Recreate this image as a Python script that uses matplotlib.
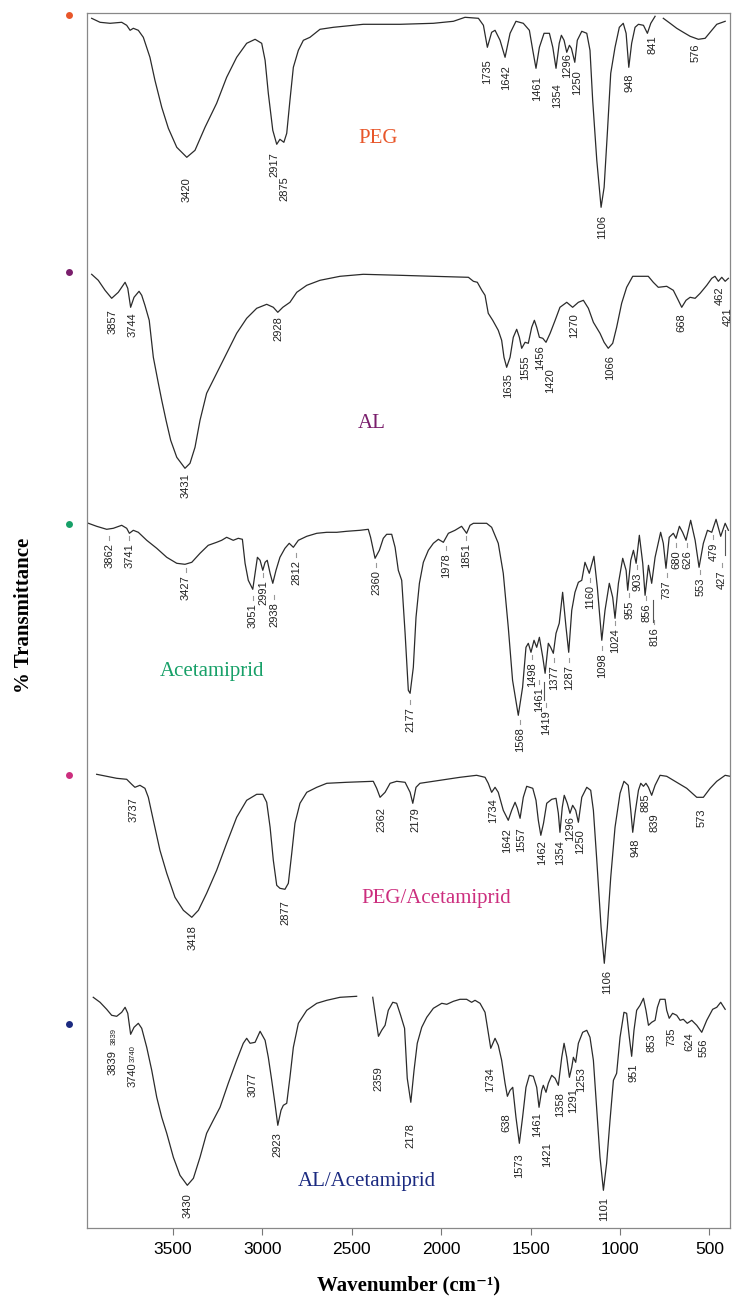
import numpy as np
import matplotlib.pyplot as plt

plt.rcParams['font.family'] = ['Liberation Sans', 'DejaVu Sans']

nan = np.nan

# FTIR traces: wavenumber (cm-1) and stacked transmittance (a.u.)
peg_wn = [3955, 3908, 3852, 3787, 3759, 3740, 3722, 3694, 3666, 3629,
          3601, 3563, 3526, 3479, 3423, 3377, 3321, 3256, 3200, 3144,
          3088, 3041, 3004, 2985, 2967, 2942, 2920, 2902, 2880, 2864,
          2846, 2827, 2799, 2771, 2734, 2678, 2603, 2436, 2230, 2044,
          1932, 1867, 1792, 1764, 1742, 1718, 1699, 1671, 1643, 1615,
          1582, 1541, 1507, 1488, 1470, 1451, 1425, 1395, 1376, 1358,
          1340, 1328, 1313, 1298, 1283, 1272, 1253, 1239, 1214, 1186,
          1168, 1153, 1130, 1106, 1089, 1071, 1052, 1028, 1004, 982,
          966, 951, 935, 916, 897, 869, 847, 828, 804, nan,
          758, 720, 683, 646, 608, 562, 524, 487, 459, 412]
peg_t = [1210, 1206, 1205, 1206, 1203, 1198, 1200, 1198, 1191, 1171,
         1148, 1121, 1100, 1081, 1071, 1078, 1101, 1125, 1151, 1171,
         1185, 1189, 1185, 1168, 1135, 1098, 1084, 1089, 1086, 1095,
         1128, 1161, 1178, 1188, 1191, 1199, 1201, 1204, 1204, 1205,
         1207, 1211, 1210, 1203, 1181, 1196, 1198, 1188, 1171, 1195,
         1207, 1205, 1198, 1178, 1160, 1181, 1195, 1195, 1181, 1160,
         1185, 1193, 1188, 1176, 1183, 1180, 1166, 1188, 1197, 1195,
         1178, 1128, 1068, 1021, 1041, 1095, 1155, 1181, 1201, 1205,
         1195, 1161, 1185, 1201, 1204, 1203, 1195, 1205, 1212, nan,
         1210, 1205, 1200, 1196, 1192, 1189, 1190, 1198, 1204, 1207]

al_wn = [3955, 3918, 3880, 3843, 3806, 3787, 3768, 3753, 3737, 3718,
         3690, 3675, 3657, 3633, 3610, 3582, 3563, 3539, 3513, 3479,
         3433, 3405, 3377, 3349, 3312, 3256, 3200, 3144, 3088, 3032,
         2976, 2939, 2914, 2886, 2846, 2808, 2752, 2678, 2566, 2436,
         2230, 2044, 1848, 1820, 1798, 1773, 1755, 1737, 1712, 1681,
         1662, 1649, 1634, 1615, 1597, 1578, 1563, 1550, 1531, 1513,
         1494, 1479, 1466, 1451, 1432, 1414, 1391, 1363, 1336, 1298,
         1265, 1233, 1205, 1177, 1149, 1112, 1089, 1066, 1041, 1019,
         991, 963, 929, 842, 814, 786, 739, 702, 674, 655,
         631, 608, 580, 552, 515, 487, 469, 450, 431, 412, 394]
al_t = [954, 948, 938, 930, 936, 941, 946, 940, 921, 931,
        937, 933, 923, 908, 871, 845, 828, 808, 788, 771,
        760, 765, 781, 808, 835, 855, 875, 895, 910, 920,
        924, 921, 916, 921, 926, 936, 943, 948, 952, 954,
        953, 952, 951, 947, 946, 938, 933, 915, 908, 898,
        888, 871, 861, 871, 891, 899, 891, 880, 886, 885,
        901, 908, 901, 891, 890, 886, 895, 908, 921, 926,
        921, 926, 928, 920, 906, 895, 886, 880, 885, 901,
        925, 941, 952, 952, 946, 941, 942, 938, 928, 921,
        928, 931, 930, 935, 943, 950, 952, 947, 951, 947, 950]

acet_wn = [3973, 3927, 3871, 3834, 3787, 3759, 3744, 3722, 3694, 3647,
           3591, 3535, 3479, 3433, 3395, 3349, 3303, 3256, 3228, 3200,
           3163, 3135, 3112, 3097, 3079, 3054, 3041, 3028, 3013, 2998,
           2985, 2973, 2957, 2942, 2924, 2902, 2874, 2850, 2827, 2799,
           2752, 2696, 2640, 2584, 2529, 2454, 2408, 2395, 2370, 2346,
           2324, 2305, 2277, 2258, 2240, 2221, 2202, 2184, 2174, 2156,
           2141, 2122, 2100, 2072, 2044, 2016, 1988, 1960, 1923, 1886,
           1858, 1839, 1820, 1746, 1718, 1681, 1653, 1625, 1601, 1569,
           1545, 1526, 1513, 1498, 1481, 1466, 1451, 1432, 1419, 1401,
           1388, 1373, 1358, 1340, 1321, 1302, 1287, 1270, 1252, 1233,
           1214, 1196, 1172, 1146, 1127, 1102, 1084, 1060, 1041, 1028,
           1009, 985, 966, 957, 940, 925, 910, 892, 873, 860,
           841, 823, 804, 773, 758, 743, 725, 702, 687, 668,
           650, 631, 605, 580, 558, 534, 511, 487, 463, 437,
           412, 394]
acet_t = [705, 702, 699, 700, 703, 700, 695, 698, 696, 688,
          680, 671, 665, 664, 666, 675, 683, 686, 688, 691,
          688, 690, 689, 665, 648, 639, 655, 671, 668, 658,
          666, 668, 655, 645, 658, 671, 680, 685, 681, 688,
          692, 695, 696, 696, 697, 698, 699, 691, 670, 678,
          690, 694, 694, 681, 658, 648, 595, 538, 535, 561,
          611, 645, 666, 678, 685, 689, 686, 695, 698, 702,
          695, 703, 705, 705, 701, 685, 655, 601, 548, 513,
          541, 581, 585, 576, 588, 581, 591, 571, 555, 585,
          581, 575, 595, 605, 636, 601, 576, 618, 636, 646,
          648, 666, 655, 672, 641, 588, 618, 645, 631, 610,
          645, 670, 658, 638, 668, 678, 665, 693, 665, 633,
          663, 645, 671, 696, 685, 660, 691, 695, 690, 702,
          696, 688, 708, 688, 661, 685, 698, 696, 709, 692,
          705, 698]

pa_wn = [3927, 3871, 3815, 3759, 3731, 3713, 3685, 3657, 3638, 3610,
         3573, 3535, 3489, 3442, 3395, 3358, 3312, 3256, 3200, 3144,
         3088, 3032, 2998, 2976, 2957, 2939, 2920, 2902, 2874, 2855,
         2836, 2818, 2790, 2752, 2696, 2640, 2529, 2380, 2361, 2342,
         2314, 2286, 2249, 2202, 2174, 2159, 2141, 2119, 2007, 1895,
         1802, 1755, 1737, 1718, 1699, 1681, 1653, 1625, 1606, 1587,
         1574, 1559, 1541, 1522, 1488, 1470, 1457, 1443, 1428, 1410,
         1382, 1358, 1345, 1336, 1323, 1312, 1295, 1280, 1265, 1248,
         1233, 1214, 1186, 1164, 1149, 1130, 1106, 1088, 1071, 1052,
         1028, 1000, 978, 954, 940, 929, 916, 897, 884, 869,
         855, 841, 823, 804, 776, 739, 683, 627, 571, 534,
         496, 459, 412, 384]
pa_t = [454, 452, 450, 449, 444, 441, 443, 440, 431, 408,
        378, 355, 331, 318, 311, 318, 335, 358, 385, 411,
        428, 434, 434, 426, 401, 368, 343, 340, 339, 345,
        375, 405, 425, 436, 441, 445, 446, 447, 440, 431,
        436, 445, 447, 446, 436, 425, 441, 445, 448, 451,
        453, 451, 445, 436, 441, 436, 418, 408, 418, 426,
        420, 410, 431, 442, 440, 428, 408, 393, 405, 425,
        429, 430, 415, 396, 421, 433, 425, 415, 423, 418,
        406, 431, 441, 438, 418, 368, 301, 265, 301, 351,
        401, 435, 447, 443, 418, 396, 415, 438, 445, 442,
        445, 441, 433, 443, 453, 452, 446, 440, 431, 431,
        440, 447, 453, 452]

aa_wn = [3946, 3908, 3871, 3843, 3815, 3787, 3768, 3753, 3737, 3718,
         3694, 3675, 3647, 3619, 3591, 3563, 3535, 3498, 3461, 3420,
         3386, 3349, 3312, 3275, 3237, 3191, 3144, 3107, 3088, 3069,
         3041, 3013, 2985, 2967, 2948, 2930, 2914, 2896, 2883, 2864,
         2846, 2827, 2799, 2752, 2696, 2640, 2566, 2473, nan, 2383,
         2370, 2351, 2333, 2314, 2296, 2271, 2249, 2227, 2205, 2190,
         2170, 2152, 2134, 2109, 2081, 2044, 1997, 1969, 1932, 1895,
         1858, 1830, 1811, 1783, 1755, 1737, 1723, 1699, 1681, 1662,
         1643, 1630, 1615, 1600, 1582, 1563, 1545, 1526, 1507, 1485,
         1466, 1453, 1438, 1429, 1414, 1401, 1382, 1363, 1345, 1326,
         1313, 1298, 1283, 1270, 1261, 1248, 1233, 1209, 1186, 1168,
         1149, 1130, 1112, 1093, 1075, 1056, 1037, 1019, 1000, 978,
         963, 948, 935, 922, 907, 888, 869, 855, 841, 823,
         804, 791, 776, 748, 739, 725, 706, 683, 664, 646,
         624, 599, 571, 543, 515, 482, 459, 437, 412]
aa_t = [231, 226, 219, 213, 212, 216, 221, 215, 194, 201,
        205, 200, 181, 158, 131, 111, 95, 71, 53, 43,
        50, 71, 95, 108, 121, 145, 168, 185, 190, 185,
        186, 197, 188, 171, 148, 125, 103, 118, 123, 125,
        151, 181, 205, 218, 225, 228, 231, 232, nan, 231,
        215, 192, 198, 203, 218, 226, 225, 213, 200, 150,
        126, 158, 185, 201, 211, 220, 225, 224, 227, 229,
        229, 226, 228, 225, 216, 196, 180, 190, 183, 168,
        145, 132, 138, 141, 111, 85, 111, 141, 153, 152,
        141, 121, 138, 143, 136, 145, 153, 150, 143, 171,
        185, 171, 151, 161, 171, 166, 185, 196, 198, 191,
        168, 118, 71, 38, 65, 108, 148, 155, 191, 216,
        215, 191, 172, 198, 218, 223, 230, 218, 203, 206,
        208, 221, 229, 229, 218, 210, 215, 213, 208, 209,
        205, 208, 203, 196, 208, 219, 221, 226, 219]

# peak labels
peg_peaks = ['3420', '2917', '2875', '1735', '1642', '1461', '1354', '1296', '1250', '1106', '948', '841', '576']
al_peaks = ['3857', '3744', '3431', '2928', '1635', '1555', '1456', '1420', '1270', '1066', '668', '462', '421']
acet_peaks = ['3862', '3741', '3427', '3051', '2991', '2938', '2812', '2360', '2177', '1978',
              '1851', '1568', '1498', '1461', '1419', '1377', '1287', '1160', '1098', '1024',
              '955', '903', '856', '816', '737', '680', '626', '553', '479', '427']
pa_peaks = ['3737', '3418', '2877', '2362', '2179', '1734', '1642', '1557', '1462', '1354',
            '1296', '1250', '1106', '948', '885', '839', '573']
aa_peaks = ['3839', '3740', '3430', '3077', '2923', '2359', '2178', '1734', '638', '1573',
            '1461', '1421', '1358', '1291', '1253', '1101', '951', '853', '735', '624', '556']

names = ['PEG', 'AL', 'Acetamiprid', 'PEG/Acetamiprid', 'AL/Acetamiprid']
colors = ['#E8562A', '#7A1E6C', '#17A068', '#CC2E7E', '#1B2A80']

# label placement (x in cm-1, top of rotated text in a.u.)
peg_lab_x = [3423, 2935, 2879, 1742, 1638, 1466, 1354, 1295, 1242, 1099, 948, 819, 575]
peg_lab_top = [1051, 1076, 1052, 1169, 1163, 1152, 1145, 1175, 1158, 1013, 1155, 1193, 1185]
al_lab_x = [3840, 3725, 3427, 2913, 1625, 1531, 1447, 1391, 1257, 1056, 655, 440, 400]
al_lab_top = [919, 916, 755, 912, 855, 873, 883, 860, 915, 873, 915, 942, 921]
acet_lab_x = [3856, 3744, 3427, 3054, 2995, 2933, 2812, 2365, 2174, 1973,
              1861, 1559, 1494, 1454, 1414, 1369, 1283, 1168, 1102, 1028,
              948, 903, 854, 810, 739, 687, 624, 552, 478, 431]
acet_lab_top = [685, 685, 653, 625, 648, 626, 668, 658, 521, 675,
                685, 501, 566, 541, 518, 563, 563, 643, 575, 600,
                628, 656, 625, 601, 648, 678, 678, 651, 686, 658]
pa_lab_x = [3722, 3392, 2870, 2333, 2146, 1709, 1630, 1556, 1438, 1336,
            1281, 1221, 1075, 916, 860, 810, 543]
pa_lab_top = [431, 303, 328, 421, 421, 430, 400, 401, 388, 388,
              412, 399, 258, 390, 435, 415, 420]
aa_lab_x = [3840, 3725, 3420, 3054, 2917, 2353, 2170, 1727, 1638, 1563,
            1462, 1410, 1336, 1265, 1218, 1088, 926, 823, 711, 613, 534]
aa_lab_top = [178, 166, 35, 156, 96, 162, 105, 161, 115, 75,
              116, 86, 136, 140, 161, 31, 165, 195, 201, 196, 190]
aa_small = ['3839', '3740']
aa_small_x = [3828, 3722]
aa_small_top = [200, 183]

name_x = [2353, 2387, 3283, 2026, 2414]
name_y = [1085, 800, 552, 325, 42]
dot_y = [1213, 956, 704, 453, 204]

fig = plt.figure(figsize=(7.32, 13), dpi=100)
ax = fig.add_axes([87 / 732, 1 - 1228.3 / 1300, 643 / 732, 1215.6 / 1300])

traces = [(peg_wn, peg_t), (al_wn, al_t), (acet_wn, acet_t), (pa_wn, pa_t), (aa_wn, aa_t)]
for wn, t in traces:
    ax.plot(wn, t, color='#2b2b2b', lw=0.9)

narrow = ['Liberation Sans Narrow', 'Liberation Sans']
lab_font = dict(family=narrow, fontsize=8, color='#222222', rotation=90, ha='center', va='top')
groups = [(peg_peaks, peg_lab_x, peg_lab_top), (al_peaks, al_lab_x, al_lab_top),
          (acet_peaks, acet_lab_x, acet_lab_top), (pa_peaks, pa_lab_x, pa_lab_top),
          (aa_peaks, aa_lab_x, aa_lab_top)]
for labels, xs, tops in groups:
    for s, x, y in zip(labels, xs, tops):
        ax.text(x, y, s, clip_on=False, **lab_font)

for s, x, y in zip(aa_small, aa_small_x, aa_small_top):
    ax.text(x, y, s, family=narrow, fontsize=5.5, color='#222222', rotation=90, ha='center', va='top')

# small grey leader marks above the acetamiprid labels
for x, y in zip(acet_lab_x, acet_lab_top):
    ax.plot([x, x], [y + 3, y + 7], color='#999999', lw=0.8)
for x, y0, y1 in [(1427, 528, 546), (817, 606, 628), (412, 673, 698)]:
    ax.plot([x, x], [y0, y1], color='#555555', lw=0.8)

for s, c, x, y in zip(names, colors, name_x, name_y):
    ax.text(x, y, s, color=c, fontsize=15, family=['Liberation Serif', 'DejaVu Serif'],
            ha='center', va='baseline')

for c, y in zip(colors, dot_y):
    ax.plot(4082, y, 'o', ms=5, color=c, mec='none', clip_on=False)

ax.set_xlim(3981, 385)
ax.set_ylim(0, 1215.6)
ax.set_yticks([])
ax.set_xticks([3500, 3000, 2500, 2000, 1500, 1000, 500])
ax.tick_params(axis='x', direction='out', length=5, width=0.8, color='#777777',
               labelsize=12.5, pad=5)
for sp in ax.spines.values():
    sp.set_color('#888888')
    sp.set_linewidth(0.9)

fig.text(409 / 732, 1 - 1285 / 1300, 'Wavenumber (cm\u207b\u00b9)', fontsize=15, fontweight='bold',
         family=['Liberation Serif', 'DejaVu Serif'], ha='center', va='center')
fig.text(24 / 732, 1 - 615 / 1300, '% Transmittance', fontsize=15, fontweight='bold',
         family=['Liberation Serif', 'DejaVu Serif'], rotation=90, ha='center', va='center')

fig.savefig('out.png', dpi=100)
